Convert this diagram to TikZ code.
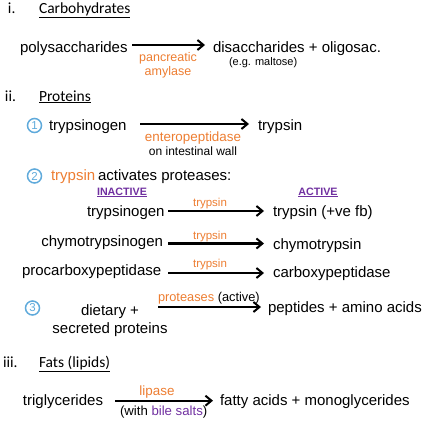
\documentclass[tikz,border=0pt]{standalone}
\usepackage{fontspec}
\setmainfont{Liberation Sans}
\newfontfamily\headfont{Carlito}
\usetikzlibrary{arrows.meta}
\definecolor{orng}{HTML}{ED7D31}
\definecolor{purp}{HTML}{7030A0}
\definecolor{cblue}{HTML}{5FAADB}
\begin{document}
\begin{tikzpicture}[x=1pt,y=-1pt,
  every node/.style={inner sep=0pt,outer sep=0pt},
  head/.style={anchor=base west,font=\headfont\fontsize{15.5}{18}\selectfont},
  txt/.style={anchor=base west,font=\fontsize{15}{18}\selectfont},
  ctxt/.style={anchor=base,font=\fontsize{15}{18}\selectfont},
  lbl/.style={anchor=base,font=\fontsize{12.5}{15}\selectfont,text=orng},
  small/.style={anchor=base,font=\fontsize{11.5}{14}\selectfont},
  tag/.style={anchor=base,font=\bfseries\fontsize{10.7}{13}\selectfont,text=purp},
  num/.style={circle,draw=cblue,line width=1.5pt,minimum size=14pt,text=cblue,font=\fontsize{11.5}{11.5}\selectfont},
  arr/.style={line width=2.1pt,-{Straight Barb[length=6pt,width=10pt,line width=2pt]}}]
\useasboundingbox (0,0) rectangle (434,431);
% i. Carbohydrates
\node[head] (h1n) at (8,13.5) {i.};
\node[head] (h1) at (39,13.5) {\underline{Carbohydrates}};
\node[txt] (poly) at (20,52) {polysaccharides};
\coordinate (a1s) at (132,45);
\coordinate (a1e) at (205,45);
\draw[arr] (a1s) -- (a1e);
\node[lbl] (pa) at (168,61) {pancreatic};
\node[lbl] (am) at (168,75) {amylase};
\node[txt] (disa) at (213,52) {disaccharides + oligosac.};
\node[small,anchor=base west,font=\fontsize{11}{13}\selectfont] (eg) at (229,65) {(e.g. maltose)};
% ii. Proteins
\node[head] (h2n) at (5,101) {ii.};
\node[head] (h2) at (39,101) {\underline{Proteins}};
\node[num] (n1) at (34.5,125.5) {1};
\node[txt] (tg1) at (49,130.5) {trypsinogen};
\coordinate (a2s) at (140,124);
\coordinate (a2e) at (249,124);
\draw[arr] (a2s) -- (a2e);
\node[txt] (tr1) at (258,130.5) {trypsin};
\node[lbl,font=\fontsize{13.4}{15}\selectfont] (ent) at (193,141.5) {enteropeptidase};
\node[small,font=\fontsize{12}{14}\selectfont] (wall) at (193,155) {on intestinal wall};
\node[num] (n2) at (34.5,176) {2};
\node[txt,text=orng] (tr2) at (51,180.5) {trypsin};
\node[txt] (act) at (98,180.5) {activates proteases:};
\node[tag] (inact) at (122,195) {\underline{INACTIVE}};
\node[tag] (active) at (318,195) {\underline{ACTIVE}};
% row 1
\node[txt] (tg2) at (87,216) {trypsinogen};
\coordinate (r1s) at (168,211);
\coordinate (r1e) at (264,211);
\draw[arr] (r1s) -- (r1e);
\node[lbl,font=\fontsize{11.5}{14}\selectfont] (l1) at (210,206) {trypsin};
\node[txt] (tr3) at (273,216) {trypsin (+ve fb)};
% row 2
\node[txt,anchor=base east] (chg) at (163,246) {chymotrypsinogen};
\coordinate (r2s) at (168,243.5);
\coordinate (r2e) at (264,243.5);
\draw[arr] (r2s) -- (r2e);
\node[lbl,font=\fontsize{11.5}{14}\selectfont] (l2) at (210,239) {trypsin};
\node[txt] (ch) at (273,249) {chymotrypsin};
% row 3
\node[txt] (pcp) at (22,275) {procarboxypeptidase};
\coordinate (r3s) at (168,273);
\coordinate (r3e) at (264,273);
\draw[arr] (r3s) -- (r3e);
\node[lbl,font=\fontsize{11.5}{14}\selectfont] (l3) at (210,267.5) {trypsin};
\node[txt] (cp) at (273,277.5) {carboxypeptidase};
% 3
\node[num] (n3) at (32.5,308) {3};
\node[ctxt] (diet) at (110,315) {dietary +};
\node[ctxt] (secr) at (110,333.3) {secreted proteins};
\coordinate (a3s) at (158,307);
\coordinate (a3e) at (261,307);
\draw[arr] (a3s) -- (a3e);
\node[anchor=base west,font=\fontsize{12.8}{15}\selectfont] (prot) at (158,301.7) {\textcolor{orng}{proteases} (active)};
\node[txt] (pep) at (268,312.7) {peptides + amino acids};
% iii. Fats
\node[head] (h3n) at (3,367.3) {iii.};
\node[head] (h3) at (39,367.3) {\underline{Fats (lipids)}};
\node[txt] (tri) at (23,405.7) {triglycerides};
\coordinate (a4s) at (115,400.7);
\coordinate (a4e) at (213,400.7);
\draw[arr] (a4s) -- (a4e);
\node[lbl,font=\fontsize{13.4}{15}\selectfont] (lip) at (157,395) {lipase};
\node[anchor=base west,font=\fontsize{13.2}{15}\selectfont] (bile) at (120,415) {(with \textcolor{purp}{bile salts})};
\node[txt] (fa) at (220,405.7) {fatty acids + monoglycerides};
\end{tikzpicture}
\end{document}
